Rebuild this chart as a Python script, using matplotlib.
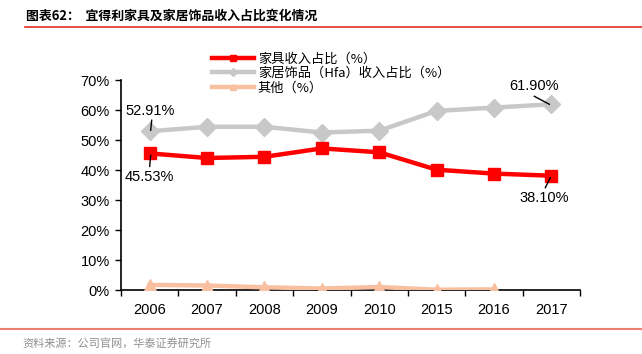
import matplotlib
matplotlib.use("Agg")
import matplotlib.pyplot as plt
import numpy as np
from matplotlib.lines import Line2D

plt.rcParams['font.family'] = ['Noto Sans CJK SC', 'DejaVu Sans']

years = ['2006', '2007', '2008', '2009', '2010', '2015', '2016', '2017']
furniture = [45.53, 44.0, 44.4, 47.2, 45.9, 40.1, 38.8, 38.10]
home_deco = [52.91, 54.4, 54.4, 52.5, 53.1, 59.7, 60.8, 61.90]
others = [1.7, 1.5, 0.9, 0.5, 1.0, 0.1, 0.2, np.nan]
yticks = [0, 10, 20, 30, 40, 50, 60, 70]
labels = ['家具收入占比（%）', '家居饰品（Hfa）收入占比（%）', '其他（%）']
title = '图表62：  宜得利家具及家居饰品收入占比变化情况'
source = '资料来源：公司官网，华泰证券研究所'

W, H = 642, 354
fig = plt.figure(figsize=(W/100, H/100), dpi=100)
ax = fig.add_axes([121/W, 1-290/H, (580-121)/W, (290-80)/H])

x = np.arange(len(years))
red = '#FF0000'
gray = '#C8C8C8'
peach = '#F8C0A0'
ax.plot(x, home_deco, color=gray, lw=3.2, marker='D', ms=9, label=labels[1], zorder=3)
ax.plot(x, furniture, color=red, lw=3.2, marker='s', ms=9, label=labels[0], zorder=4)
ax.plot(x, others, color=peach, lw=3.2, marker='^', ms=9, label=labels[2], zorder=3)

ax.set_xlim(-0.5, len(years)-0.5)
ax.set_ylim(0, 70)
ax.set_yticks(yticks)
ax.set_yticklabels([f'{v}%' for v in yticks], fontsize=10.5, family='Liberation Sans')
ax.set_xticks(x)
ax.set_xticklabels(years, fontsize=10.5, family='Liberation Sans')
ax.set_xticks(np.arange(len(years)+1)-0.5, minor=True)
ax.tick_params(axis='x', which='major', length=0, pad=9)
ax.tick_params(axis='x', which='minor', length=4, direction='out', width=1)
ax.tick_params(axis='y', length=4, direction='out', width=1, pad=4)
for s in ['top', 'right']:
    ax.spines[s].set_visible(False)
for s in ['left', 'bottom']:
    ax.spines[s].set_linewidth(1.2)

fs = 10.5
px = 0.72  # points per pixel

for i, vals, toff in [(0, home_deco, (0, 20)), (0, furniture, (0, -24)),
                      (7, home_deco, (-17, 18)), (7, furniture, (-7, -22))]:
    ax.annotate(f'{vals[i]:.2f}%', xy=(x[i], vals[i]), xytext=(toff[0]*px, toff[1]*px),
                textcoords='offset points', ha='center', va='center',
                fontsize=fs, family='Liberation Sans', zorder=6)

def leader(i, vals, a, b):
    p0 = ax.transData.transform((x[i], vals[i]))
    inv = ax.transData.inverted()
    pa = inv.transform((p0[0] + a[0], p0[1] + a[1]))
    pb = inv.transform((p0[0] + b[0], p0[1] + b[1]))
    ax.plot([pa[0], pb[0]], [pa[1], pb[1]], color='black', lw=1, zorder=6)

fig.canvas.draw()
leader(0, home_deco, (1, 1), (2, 11))
leader(0, furniture, (1, -2), (0, -13))
leader(7, home_deco, (-2, 0), (-17, 8))
leader(7, furniture, (-1, -2), (-6, -12))

handles = [Line2D([], [], color=red, lw=3.2, marker='s', ms=5),
           Line2D([], [], color=gray, lw=3.2, marker='D', ms=4),
           Line2D([], [], color=peach, lw=3.2, marker='^', ms=5)]
fig.legend(handles, labels, loc='upper left', bbox_to_anchor=(205/W, 1-46/H), frameon=False,
           fontsize=9.5, handlelength=3.2, handletextpad=0.3, labelspacing=0.1, borderpad=0)

fig.text(26/W, 1-16/H, title, fontsize=9.3, weight='bold', va='center', ha='left')
fig.add_artist(Line2D([25/W, 1], [1-27/H, 1-27/H], color='#E03020', lw=1.2))
fig.add_artist(Line2D([0, 1], [1-329/H, 1-329/H], color='#E88070', lw=1.5))
fig.text(22/W, 1-343/H, source, fontsize=8, color='#909090', va='center', ha='left')

fig.savefig('out.png', dpi=100)
